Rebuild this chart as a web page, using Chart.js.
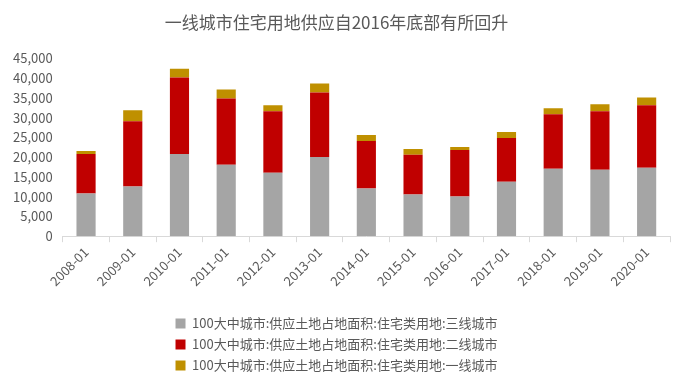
<!DOCTYPE html>
<html>
<head>
<meta charset="utf-8">
<script src="https://cdn.jsdelivr.net/npm/chart.js@4/dist/chart.umd.min.js"></script>
<style>
    html, body { margin: 0; padding: 0; background: #fff; }
    #wrap { width: 687px; height: 390px; }
</style>
</head>
<body>
<div id="wrap"><canvas id="landChart"></canvas></div>
<script>
// Data
const categories = ['2008-01', '2009-01', '2010-01', '2011-01', '2012-01', '2013-01', '2014-01',
    '2015-01', '2016-01', '2017-01', '2018-01', '2019-01', '2020-01'];
const tier3 = [10800, 12550, 20830, 18070, 16060, 20070, 12050, 10540, 10040, 13800, 17060, 16810, 17310];
const tier2 = [10030, 16560, 19320, 16810, 15560, 16310, 12040, 10040, 11790, 11040, 13800, 14810, 15810];
const tier1 = [750, 2760, 2260, 2260, 1510, 2260, 1510, 1510, 750, 1510, 1510, 1760, 2010];
const seriesNames = [
    '100大中城市:供应土地占地面积:住宅类用地:三线城市',
    '100大中城市:供应土地占地面积:住宅类用地:二线城市',
    '100大中城市:供应土地占地面积:住宅类用地:一线城市'
];
const yTicks = { min: 0, max: 45000, step: 5000 };

const FONT = '"Noto Sans CJK SC", "Noto Sans", sans-serif';
const TEXT = '#595959';

function makeDataset(label, data, color) {
    return {
        label: label,
        data: data,
        backgroundColor: color,
        borderWidth: 0,
        barPercentage: 0.41,
        categoryPercentage: 1.0
    };
}

new Chart(document.getElementById('landChart'), {
    type: 'bar',
    data: {
        labels: categories,
        datasets: [
            makeDataset(seriesNames[0], tier3, '#A5A5A5'),
            makeDataset(seriesNames[1], tier2, '#C00000'),
            makeDataset(seriesNames[2], tier1, '#BF9000')
        ]
    },
    options: {
        responsive: true,
        maintainAspectRatio: false,
        animation: false,
        layout: { padding: { left: 3, right: 17, top: 4, bottom: 8 } },
        plugins: {
            title: {
                display: true,
                text: '一线城市住宅用地供应自2016年底部有所回升',
                color: TEXT,
                font: { family: FONT, size: 17, weight: 'normal' },
                padding: { top: 8, bottom: 26 }
            },
            legend: {
                position: 'bottom',
                labels: {
                    color: TEXT,
                    font: { family: FONT, size: 13 },
                    boxWidth: 10,
                    boxHeight: 10,
                    padding: 8
                }
            },
            tooltip: { enabled: false }
        },
        scales: {
            x: {
                stacked: true,
                grid: { display: true, drawOnChartArea: false, color: '#D9D9D9', tickLength: 6 },
                border: { color: '#D9D9D9' },
                ticks: {
                    color: TEXT,
                    font: { family: FONT, size: 13 },
                    maxRotation: 45,
                    minRotation: 45,
                    padding: 2
                },
                // leave a gap between the rotated labels and the legend
                afterFit: (scale) => { scale.height += 18; }
            },
            y: {
                stacked: true,
                min: yTicks.min,
                max: yTicks.max,
                grid: { display: false, drawTicks: false, tickLength: 0 },
                border: { display: false },
                ticks: {
                    stepSize: yTicks.step,
                    color: TEXT,
                    font: { family: FONT, size: 13 },
                    padding: 10,
                    callback: (v) => v.toLocaleString('en-US')
                }
            }
        }
    }
});
</script>
</body>
</html>
